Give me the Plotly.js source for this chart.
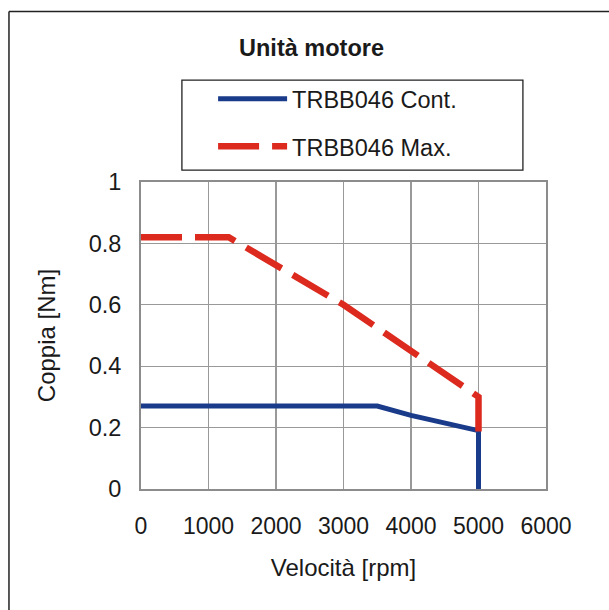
<!DOCTYPE html>
<html>
<head>
<meta charset="utf-8">
<script src="https://cdn.plot.ly/plotly-3.0.1.min.js"></script>
<style>html,body{margin:0;padding:0;background:#fff}#chart{width:609px;height:610px}</style>
</head>
<body>
<div id="chart"></div>
<script>
const contSpeed = [0, 3500, 4000, 5000, 5000];
const contTorque = [0.27, 0.27, 0.24, 0.19, 0];
const maxSpeed = [0, 1300, 3000, 3500, 4000, 5000, 5000];
const maxTorque = [0.82, 0.82, 0.60, 0.525, 0.45, 0.30, 0.18];
const seriesNames = ['TRBB046 Cont.', 'TRBB046 Max.'];
const xTicks = [0, 1000, 2000, 3000, 4000, 5000, 6000];
const yTicks = [0, 0.2, 0.4, 0.6, 0.8, 1];
const yTickText = ['0', '0.2', '0.4', '0.6', '0.8', '1'];

const fam = 'Liberation Sans, Arial, sans-serif';
const ink = '#1a1a1a';

const traces = [
  {x: contSpeed, y: contTorque, name: seriesNames[0], mode: 'lines', legendgroup: 'a',
   line: {color: '#1a3a8a', width: 5}},
  {x: maxSpeed, y: maxTorque, name: seriesNames[1], mode: 'lines', legendgroup: 'b',
   line: {color: '#dc2a1e', width: 6.5, dash: '41px,13px'}}
];

const layout = {
  width: 609, height: 610,
  margin: {l: 141, r: 63, t: 182, b: 121},
  paper_bgcolor: '#fff', plot_bgcolor: '#fff',
  font: {family: fam, color: ink, size: 23.5},
  title: {text: '<b>Unità motore</b>', font: {family: fam, size: 23.5, color: ink},
          xref: 'paper', x: 0.421, xanchor: 'center', yref: 'container', y: 0.921, yanchor: 'middle'},
  showlegend: true,
  legend: {x: 0.178, y: 1.342, xanchor: 'left', yanchor: 'top', borderwidth: 0,
           bgcolor: 'rgba(0,0,0,0)', font: {family: fam, size: 23.5, color: ink},
           tracegroupgap: 14, itemwidth: 69, traceorder: 'grouped'},
  xaxis: {range: [0, 6000], tickvals: xTicks, ticktext: xTicks.map(String), showgrid: true,
          gridcolor: '#999', gridwidth: 1.2, zeroline: false, showline: true, linecolor: '#8c8c8c', linewidth: 2,
          mirror: true, ticks: '', ticklabelstandoff: 15, tickfont: {size: 23},
          title: {text: 'Velocità [rpm]', font: {family: fam, size: 24, color: ink}, standoff: 22}},
  yaxis: {range: [0, 1], tickvals: yTicks, ticktext: yTickText, showgrid: true,
          gridcolor: '#999', gridwidth: 1.2, zeroline: false, showline: true, linecolor: '#8c8c8c', linewidth: 2,
          mirror: true, ticks: '', ticklabelstandoff: 13, tickfont: {size: 23.5},
          title: {text: 'Coppia [Nm]', font: {family: fam, size: 24, color: ink}, standoff: 26}},
  shapes: [
    {type: 'line', xref: 'paper', yref: 'paper', x0: -0.326, x1: 1.3, y0: 1.555, y1: 1.555, line: {color: '#222', width: 1.5}},
    {type: 'line', xref: 'paper', yref: 'paper', x0: -0.326, x1: -0.326, y0: 1.555, y1: -0.5, line: {color: '#222', width: 1.5}},
    {type: 'rect', xref: 'paper', yref: 'paper', x0: 0.101, x1: 0.943, y0: 1.039, y1: 1.332, line: {color: '#222', width: 1.3}, fillcolor: 'rgba(0,0,0,0)'}
  ]
};

Plotly.newPlot('chart', traces, layout, {staticPlot: true, displayModeBar: false});
</script>
</body>
</html>
